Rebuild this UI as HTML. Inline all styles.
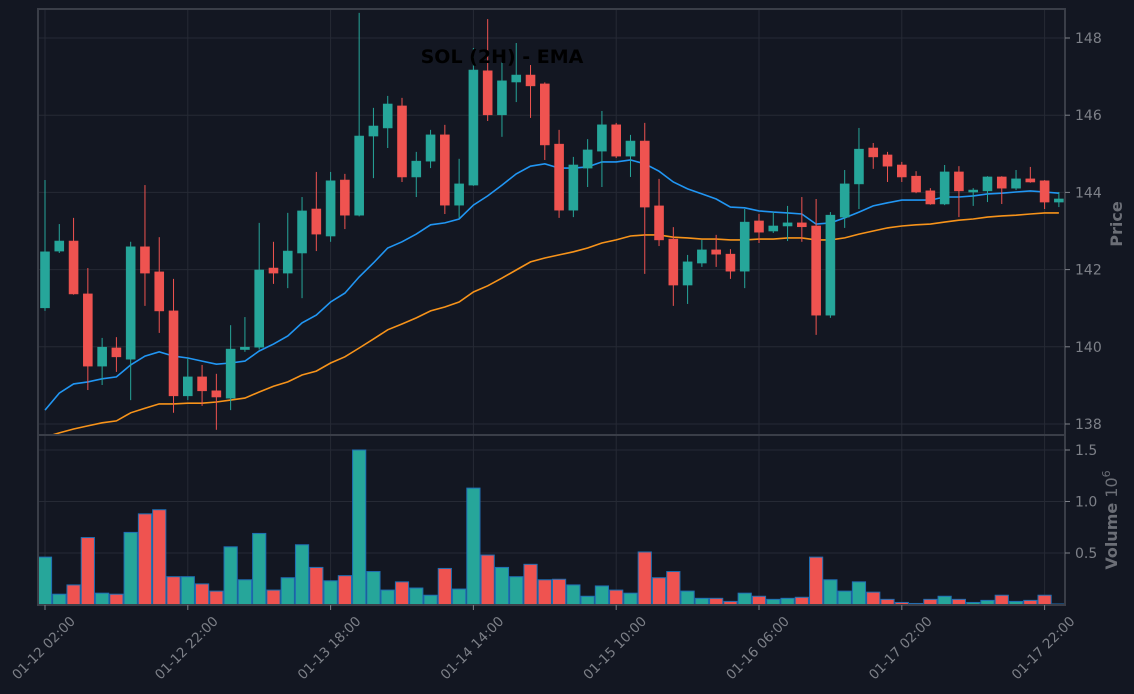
<!DOCTYPE html>
<html><head><meta charset="utf-8"><style>
html,body{margin:0;padding:0;background:#131722;}
svg{display:block;font-family:"DejaVu Sans","Liberation Sans",sans-serif;}
</style></head><body>
<svg id="chart" width="1134" height="694" viewBox="0 0 1134 694" xmlns="http://www.w3.org/2000/svg">
<rect x="0" y="0" width="1134" height="694" fill="#131722"/>
<g id="grid"></g>
<g id="volume"></g>
<g id="ema"></g>
<g id="candles"></g>
<rect x="38" y="9" width="1027" height="426" fill="none" stroke="#3a3e48" stroke-width="2"/>
<rect x="38" y="435" width="1027" height="170" fill="none" stroke="#3a3e48" stroke-width="2"/>
<g id="axes"></g>
<text x="502" y="63" text-anchor="middle" font-size="19" font-weight="bold" fill="#000">SOL (2H) - EMA</text>
<text transform="translate(1122,224) rotate(-90)" text-anchor="middle" font-size="16" font-weight="bold" fill="#6b6e76">Price</text>
<text transform="translate(1117,520) rotate(-90)" text-anchor="middle" font-size="16" fill="#6b6e76"><tspan font-weight="bold">Volume</tspan>  10<tspan dy="-7" font-size="11">6</tspan></text>
</svg>
<script>
const opens  = [141.01,142.48,142.74,141.37,139.50,139.97,139.68,142.59,141.94,140.93,138.73,139.22,138.86,138.67,139.93,139.99,142.04,141.91,142.43,143.57,142.87,144.32,143.41,145.46,145.67,146.24,144.40,144.81,145.49,143.67,144.19,147.15,146.01,146.86,147.04,146.81,145.25,143.54,144.63,145.07,145.75,144.94,145.33,143.65,142.79,141.60,142.17,142.51,142.40,141.96,143.26,143.00,143.13,143.21,143.13,140.82,143.36,144.22,145.15,144.97,144.71,144.42,144.04,143.70,144.53,144.01,144.04,144.40,144.11,144.35,144.30,143.75];
const highs  = [144.32,143.18,143.34,142.04,140.23,140.25,142.72,144.19,142.84,141.76,139.71,139.53,139.30,140.56,140.77,143.21,142.72,143.47,143.88,144.53,144.53,144.48,148.65,146.19,146.50,146.45,145.05,145.62,145.75,144.87,147.74,148.49,147.38,147.87,147.30,146.85,145.62,144.92,145.38,146.11,145.80,145.49,145.80,144.35,143.10,142.38,142.77,142.90,142.53,143.57,143.44,143.49,143.65,143.88,143.83,143.49,144.58,145.67,145.28,145.05,144.79,144.55,144.11,144.71,144.68,144.11,144.42,144.42,144.58,144.66,144.32,144.01];
const lows   = [140.93,142.43,141.35,138.88,139.01,139.35,138.62,141.06,140.36,138.29,138.62,138.47,137.85,138.36,139.87,139.93,141.63,141.52,141.26,142.48,142.72,143.05,143.38,144.37,145.15,144.27,143.88,144.63,143.44,143.34,144.17,145.85,145.44,146.34,145.93,144.84,143.34,143.36,144.14,144.14,144.89,144.40,141.89,142.61,141.06,141.11,142.07,142.07,141.76,141.52,142.69,142.95,142.74,142.72,140.31,140.75,143.08,143.57,144.61,144.27,144.27,143.98,143.68,143.67,143.36,143.65,143.75,143.70,144.06,144.25,143.57,143.62];
const closes = [142.46,142.74,141.37,139.50,139.99,139.74,142.59,141.91,140.93,138.73,139.22,138.86,138.70,139.94,139.99,141.99,141.91,142.48,143.52,142.92,144.30,143.41,145.46,145.72,146.29,144.40,144.81,145.49,143.67,144.22,147.17,146.01,146.89,147.04,146.76,145.23,143.54,144.71,145.10,145.75,144.94,145.33,143.62,142.77,141.60,142.20,142.51,142.40,141.96,143.23,142.97,143.13,143.21,143.11,140.82,143.41,144.22,145.12,144.92,144.68,144.40,144.01,143.70,144.53,144.04,144.06,144.40,144.11,144.35,144.27,143.75,143.83];
const volumes = [0.46,0.10,0.19,0.65,0.11,0.10,0.70,0.88,0.92,0.27,0.27,0.20,0.13,0.56,0.24,0.69,0.14,0.26,0.58,0.36,0.23,0.28,1.50,0.32,0.14,0.22,0.16,0.09,0.35,0.15,1.13,0.48,0.36,0.27,0.39,0.24,0.245,0.19,0.08,0.18,0.14,0.11,0.51,0.26,0.32,0.13,0.06,0.06,0.03,0.11,0.08,0.05,0.06,0.07,0.46,0.24,0.13,0.22,0.12,0.05,0.02,0.01,0.05,0.08,0.05,0.02,0.04,0.09,0.03,0.04,0.09,0.005];
const emaFast = [138.36,138.80,139.04,139.09,139.17,139.22,139.53,139.76,139.87,139.76,139.71,139.63,139.55,139.58,139.63,139.89,140.07,140.28,140.62,140.82,141.16,141.39,141.81,142.17,142.56,142.72,142.92,143.16,143.21,143.31,143.67,143.91,144.19,144.48,144.68,144.74,144.63,144.63,144.66,144.79,144.79,144.84,144.74,144.55,144.27,144.09,143.96,143.83,143.62,143.60,143.52,143.49,143.47,143.44,143.18,143.21,143.34,143.49,143.65,143.73,143.80,143.80,143.80,143.88,143.88,143.91,143.96,143.98,144.01,144.04,144.01,143.98];
const emaSlow = [137.66,137.77,137.87,137.95,138.03,138.08,138.29,138.41,138.52,138.52,138.54,138.54,138.57,138.62,138.67,138.83,138.98,139.09,139.27,139.37,139.58,139.74,139.97,140.20,140.44,140.59,140.75,140.93,141.03,141.16,141.42,141.58,141.78,141.99,142.20,142.30,142.38,142.46,142.56,142.69,142.77,142.87,142.90,142.90,142.84,142.82,142.79,142.79,142.77,142.77,142.79,142.79,142.82,142.82,142.77,142.77,142.82,142.92,143.00,143.08,143.13,143.16,143.18,143.23,143.28,143.31,143.36,143.39,143.41,143.44,143.47,143.47];
const priceTicks = [138,140,142,144,146,148];
const volumeTicks = [0.5,1.0,1.5];
const dateLabels = ["01-12 02:00","01-12 22:00","01-13 18:00","01-14 14:00","01-15 10:00","01-16 06:00","01-17 02:00","01-17 22:00"];
const dateLabelIndex = [0,10,20,30,40,50,60,70];

const NS="http://www.w3.org/2000/svg";
const PX0=45, STEP=14.28;
const xOf = i => PX0 + i*STEP;
const yPrice = p => 38 + (148 - p)*38.6;
const yVol = v => 604.5 - v*103;
const UP="#26a69a", DN="#ef5350", GRID="#262a35", TXT="#7d8088";
function mk(tag, attrs, parent){const e=document.createElementNS(NS,tag);for(const k in attrs)e.setAttribute(k,attrs[k]);parent.appendChild(e);return e;}
const grid=document.getElementById('grid'), vol=document.getElementById('volume'), ema=document.getElementById('ema'), cg=document.getElementById('candles'), axes=document.getElementById('axes');

priceTicks.forEach(t=>{
  const y=yPrice(t);
  const l=mk('line',{x1:38,x2:1065,y1:y,y2:y,stroke:GRID,'stroke-width':1},grid);
  
  
  const tk=mk('line',{x1:1065,x2:1070,y1:y,y2:y,stroke:TXT,'stroke-width':1},axes);
  
  
  const tx=mk('text',{x:1075,y:y+5,'font-size':14,fill:TXT},axes);
  tx.textContent=String(t);
  
  
});
volumeTicks.forEach(t=>{
  const y=yVol(t);
  const l=mk('line',{x1:38,x2:1065,y1:y,y2:y,stroke:GRID,'stroke-width':1},grid);
  
  
  const tk=mk('line',{x1:1065,x2:1070,y1:y,y2:y,stroke:TXT,'stroke-width':1},axes);
  
  
  const tx=mk('text',{x:1075,y:y+5,'font-size':14,fill:TXT},axes);
  tx.textContent=t.toFixed(1);
  
  
});
dateLabelIndex.forEach((idx,k)=>{
  const x=xOf(idx);
  const l=mk('line',{x1:x,x2:x,y1:9,y2:605,stroke:GRID,'stroke-width':1},grid);
  
  
  const tk=mk('line',{x1:x,x2:x,y1:605,y2:610,stroke:TXT,'stroke-width':1},axes);
  
  
  const tx=mk('text',{transform:`translate(${x+31},${622}) rotate(-45)`,'text-anchor':'end','font-size':13.5,fill:TXT},axes);
  tx.textContent=dateLabels[k];
  
  
});

volumes.forEach((v,i)=>{
  const up=closes[i]>=opens[i];
  const y=yVol(v);
  const r=mk('rect',{x:xOf(i)-6.6,y:y,width:13.2,height:Math.max(604.5-y,0.5),fill:up?UP:DN,stroke:'#1f6fb4','stroke-width':1},vol);
  
  
});

const defs=mk('defs',{},document.getElementById('chart'));
const cp=mk('clipPath',{id:'pclip'},defs);
mk('rect',{x:38,y:9,width:1027,height:426},cp);
ema.setAttribute('clip-path','url(#pclip)');
function line(arr,color,name){
  const d=arr.map((v,i)=>(i?'L':'M')+xOf(i).toFixed(1)+' '+yPrice(v).toFixed(1)).join(' ');
  const p=mk('path',{d:d,fill:'none',stroke:color,'stroke-width':1.6},ema);
  
  
}
line(emaSlow,'#f7931a','ema-slow-line');
line(emaFast,'#2196f3','ema-fast-line');

opens.forEach((o,i)=>{
  const c=closes[i], up=c>=o, col=up?UP:DN, x=xOf(i);
  const w=mk('line',{x1:x,x2:x,y1:yPrice(highs[i]),y2:yPrice(lows[i]),stroke:col,'stroke-width':1},cg);
  
  
  const top=yPrice(Math.max(o,c)), bot=yPrice(Math.min(o,c));
  const b=mk('rect',{x:x-4.5,y:top,width:9,height:Math.max(bot-top,1.5),fill:col,stroke:col,'stroke-width':0.6},cg);
  
  
});
</script>
</body></html>
